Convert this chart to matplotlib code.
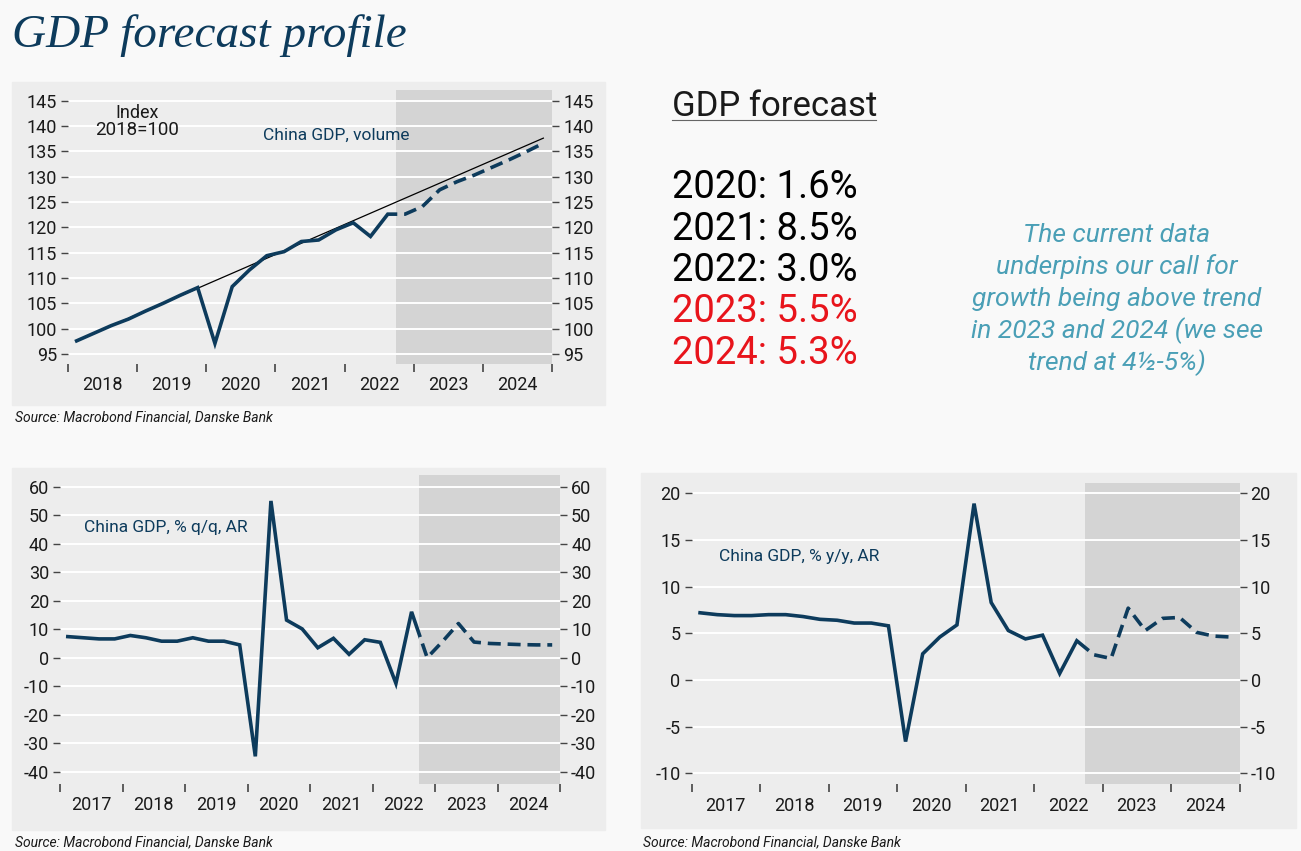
import matplotlib
matplotlib.use("Agg")
import matplotlib.pyplot as plt
import numpy as np
from matplotlib.patches import Rectangle
from matplotlib.lines import Line2D
from matplotlib.ticker import MultipleLocator, FixedLocator, FixedFormatter, NullFormatter

W, H = 1301, 851
DPI = 100

BG = "#f9f9f9"
PANEL = "#ededed"
SHADE = "#d4d4d4"
NAVY = "#0d3b5c"
TEAL = "#4a9fb6"
RED = "#e8141b"
FONT = ["Roboto", "DejaVu Sans"]

plt.rcParams["font.family"] = FONT
plt.rcParams["axes.unicode_minus"] = False

# ---------------------------------------------------------------
# Data (quarterly)
# ---------------------------------------------------------------
FORECAST_FROM = 2022.75
END_YEAR = 2025

vol_start = 2018
gdp_volume = [97.6, 99.1, 100.6, 101.9,
              103.5, 105.0, 106.6, 108.1,
              97.1, 108.3, 111.6, 114.4,
              115.2, 117.2, 117.5, 119.5,
              120.9, 118.2, 122.6, 122.6,
              124.1, 127.4, 129.0, 130.3,
              131.8, 133.3, 134.9, 136.6]
trend_x = [2018.125, 2024.875]
trend_y = [97.6, 137.6]

qq_start = 2017
gdp_qq = [7.4, 7.0, 6.6, 6.6,
          7.8, 7.0, 5.8, 5.8,
          7.0, 5.8, 5.8, 4.5,
          -34.6, 55.0, 13.2, 10.1,
          3.5, 6.8, 1.2, 6.3,
          5.4, -9.0, 16.1, 0.0,
          5.8, 12.0, 5.5, 5.0,
          4.8, 4.6, 4.5, 4.5]

yy_start = 2017
gdp_yy = [7.2, 7.0, 6.9, 6.9,
          7.0, 7.0, 6.8, 6.5,
          6.4, 6.1, 6.1, 5.8,
          -6.6, 2.8, 4.6, 5.9,
          18.9, 8.3, 5.3, 4.4,
          4.8, 0.7, 4.2, 2.7,
          2.3, 7.7, 5.3, 6.6,
          6.7, 5.1, 4.7, 4.6]

forecast_labels = ["2020: 1.6%", "2021: 8.5%", "2022: 3.0%", "2023: 5.5%", "2024: 5.3%"]
forecast_colors = ["black", "black", "black", RED, RED]
comment_lines = ["The current data", "underpins our call for",
                 "growth being above trend", "in 2023 and 2024 (we see",
                 "trend at 4½-5%)"]
SOURCE = "Source: Macrobond Financial, Danske Bank"


def fx(x):
    return x / W


def fy(y):
    return 1 - y / H


def add_box(fig, x0, y0, x1, y1):
    fig.patches.append(Rectangle((fx(x0), fy(y1)), (x1 - x0) / W, (y1 - y0) / H,
                                 transform=fig.transFigure, color=PANEL, zorder=-1))


def add_axes(fig, x0, y0, x1, y1):
    return fig.add_axes([fx(x0), fy(y1), (x1 - x0) / W, (y1 - y0) / H])


def draw_panel(ax, start, values, ylim, ystep):
    x = start + (np.arange(len(values)) + 0.5) / 4
    ax.set_facecolor(PANEL)
    ax.axvspan(FORECAST_FROM, END_YEAR, color=SHADE, lw=0, zorder=0.5)

    # same series twice: solid up to the forecast start, dashed after it
    solid, = ax.plot(x, values, color=NAVY, lw=2.6, zorder=3, solid_joinstyle="miter")
    solid.set_clip_path(Rectangle((start, -1e4), FORECAST_FROM - start, 2e4,
                                  transform=ax.transData))
    dashed, = ax.plot(x, values, color=NAVY, lw=2.6, ls=(0, (3.6, 1.9)), zorder=3)
    dashed.set_clip_path(Rectangle((FORECAST_FROM, -1e4), END_YEAR - FORECAST_FROM, 2e4,
                                   transform=ax.transData))

    ax.set_xlim(start, END_YEAR)
    ax.set_ylim(*ylim)
    for s in ax.spines.values():
        s.set_visible(False)

    years = list(range(start, END_YEAR + 1))
    ax.xaxis.set_major_locator(FixedLocator(years))
    ax.xaxis.set_major_formatter(NullFormatter())
    ax.xaxis.set_minor_locator(FixedLocator([y + 0.5 for y in years[:-1]]))
    ax.xaxis.set_minor_formatter(FixedFormatter([str(y) for y in years[:-1]]))
    ax.tick_params(axis="x", which="major", length=6, width=1.2, color="#444", direction="out")
    ax.tick_params(axis="x", which="minor", length=0, pad=9, labelsize=13, labelcolor="#1a1a1a")

    ax.yaxis.set_major_locator(MultipleLocator(ystep))
    ax.tick_params(axis="y", which="major", left=True, right=True, labelleft=True, labelright=True,
                   length=5, width=1.0, color="#444", pad=3, labelsize=13, labelcolor="#1a1a1a")
    ax.yaxis.grid(True, color="white", lw=1.4)
    ax.set_axisbelow("line")
    return x


fig = plt.figure(figsize=(W / DPI, H / DPI), dpi=DPI, facecolor=BG)

fig.text(fx(12), fy(47), "GDP forecast profile", family=["Liberation Serif", "DejaVu Serif"],
         style="italic", fontsize=34, color=NAVY, va="baseline")

# ---------------------------------------------------------------
# Panel 1: GDP volume index
# ---------------------------------------------------------------
add_box(fig, 12, 82, 605, 405)
ax1 = add_axes(fig, 68, 90.5, 552, 364)
yt = [95, 100, 105, 110, 115, 120, 125, 130, 135, 140, 145]
draw_panel(ax1, vol_start, gdp_volume, (93.03, 147.0), 5)
ax1.plot(trend_x, trend_y, color="black", lw=0.9, zorder=2.5)
ax1.set_yticks(yt)
fig.text(fx(137), fy(117.7), "Index", fontsize=13, color="#1a1a1a", ha="center", va="baseline")
fig.text(fx(137), fy(135), "2018=100", fontsize=13.5, color="#1a1a1a", ha="center", va="baseline")
fig.text(fx(263), fy(140), "China GDP, volume", fontsize=12.5, color=NAVY, va="baseline")
fig.text(fx(15), fy(421), SOURCE, fontsize=10, style="italic", color="#1a1a1a", va="baseline")

# ---------------------------------------------------------------
# Panel 2: q/q AR
# ---------------------------------------------------------------
add_box(fig, 12, 468, 605, 830)
ax2 = add_axes(fig, 60, 475, 560, 784)
draw_panel(ax2, qq_start, gdp_qq, (-44.3, 64.1), 10)
fig.text(fx(84), fy(532), "China GDP, % q/q, AR", fontsize=12.5, color=NAVY, va="baseline")
fig.text(fx(15), fy(846), SOURCE, fontsize=10, style="italic", color="#1a1a1a", va="baseline")

# ---------------------------------------------------------------
# Panel 3: y/y
# ---------------------------------------------------------------
add_box(fig, 641, 473, 1296, 828)
ax3 = add_axes(fig, 691.5, 482.7, 1239.5, 784.3)
draw_panel(ax3, yy_start, gdp_yy, (-11.18, 21.14), 5)
fig.text(fx(719), fy(561), "China GDP, % y/y, AR", fontsize=12.5, color=NAVY, va="baseline")
fig.text(fx(643), fy(846), SOURCE, fontsize=10, style="italic", color="#1a1a1a", va="baseline")

# ---------------------------------------------------------------
# Text block
# ---------------------------------------------------------------
fig.text(fx(672), fy(116), "GDP forecast", fontsize=25, color="#1a1a1a", va="baseline")
fig.add_artist(Line2D([fx(672), fx(876)], [fy(119.5), fy(119.5)], color="#666", lw=0.8))

for i, (lab, col) in enumerate(zip(forecast_labels, forecast_colors)):
    fig.text(fx(672), fy(198.3 + i * 41.4), lab, fontsize=27.5, color=col, va="baseline")

for i, line in enumerate(comment_lines):
    fig.text(fx(1117), fy(241.7 + i * 32.1), line, fontsize=19, style="italic",
             color=TEAL, ha="center", va="baseline")

fig.savefig("out.png", dpi=DPI, facecolor=BG)
